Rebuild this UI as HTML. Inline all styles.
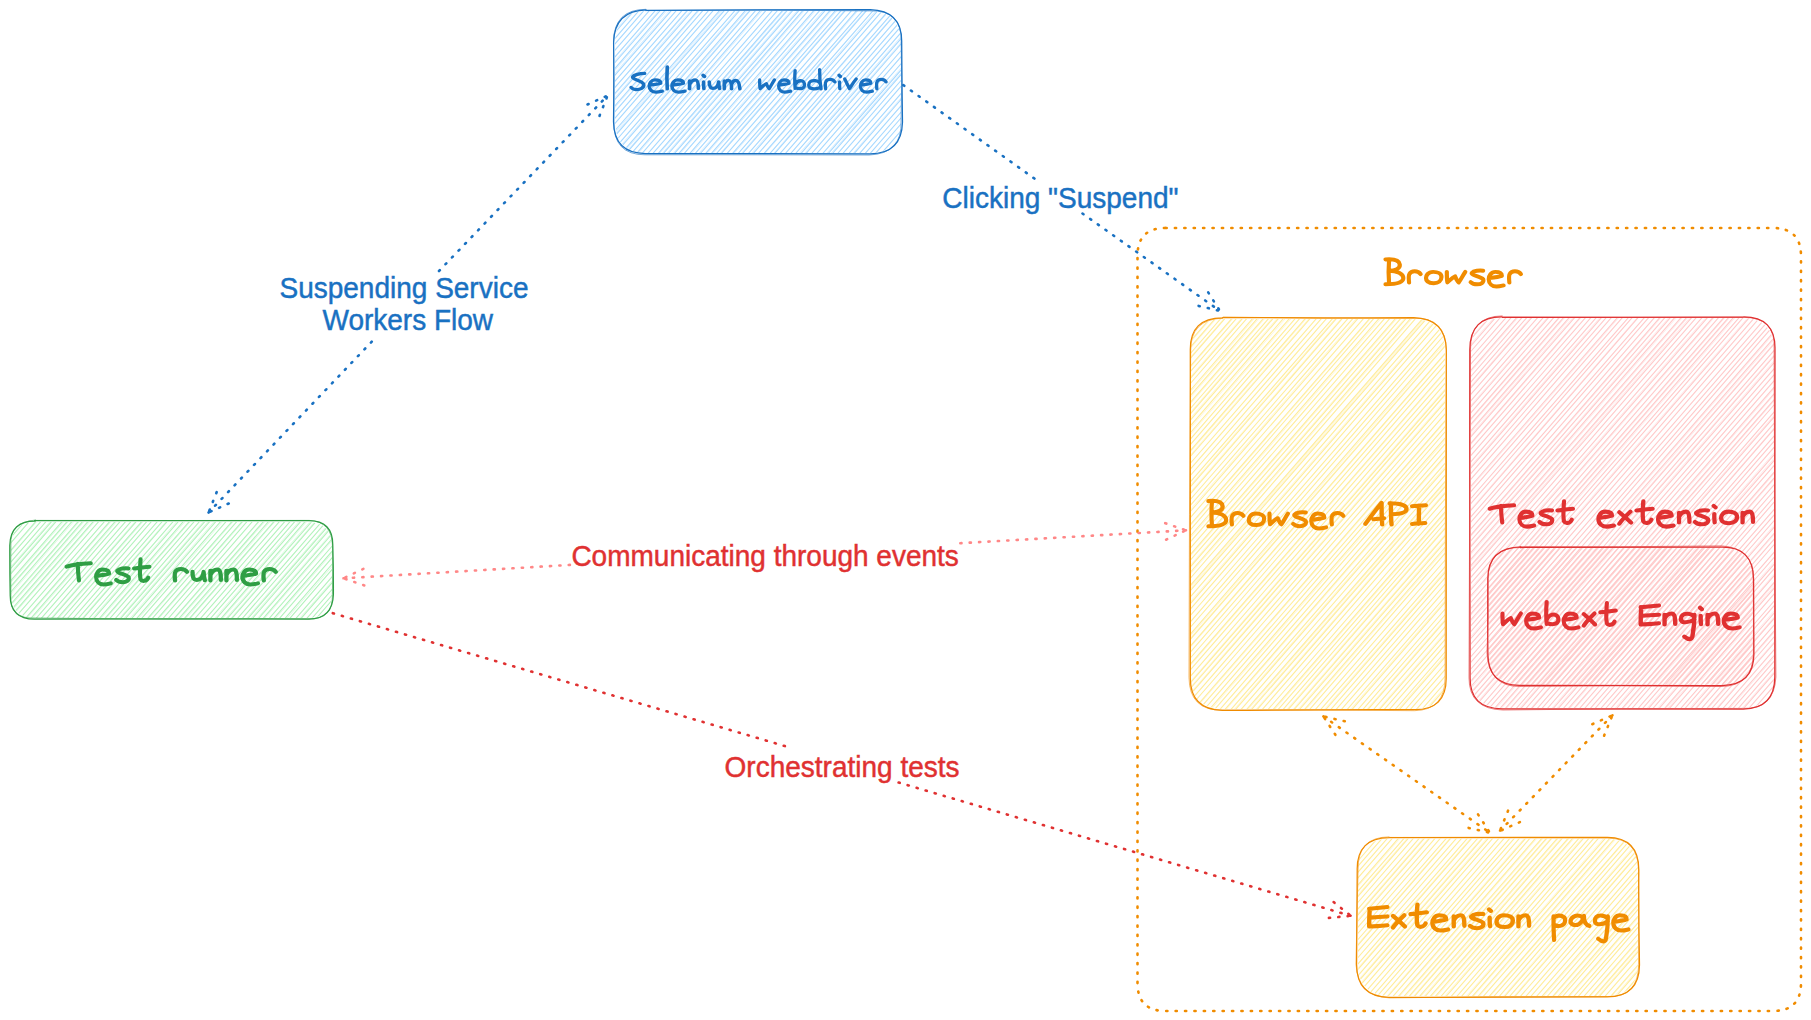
<!DOCTYPE html>
<html><head><meta charset="utf-8"><style>
html,body{margin:0;padding:0;background:#fff;width:1811px;height:1020px;overflow:hidden}
svg{display:block}
.lab{font-family:"Liberation Sans",sans-serif}
.hw{font-family:"Liberation Sans",sans-serif;font-weight:bold}
</style></head><body>
<svg width="1811" height="1020" viewBox="0 0 1811 1020">
<defs><clipPath id="c1"><path d="M647.0,11.0 L869.0,11.0 Q901.0,11.0 901.0,43.0 L901.0,121.0 Q901.0,153.0 869.0,153.0 L647.0,153.0 Q615.0,153.0 615.0,121.0 L615.0,43.0 Q615.0,11.0 647.0,11.0"/></clipPath><clipPath id="c2"><path d="M35.5,522.0 L307.5,522.0 Q332.0,522.0 332.0,546.5 L332.0,593.5 Q332.0,618.0 307.5,618.0 L35.5,618.0 Q11.0,618.0 11.0,593.5 L11.0,546.5 Q11.0,522.0 35.5,522.0"/></clipPath><clipPath id="c3"><path d="M1223.0,319.0 L1413.0,319.0 Q1445.0,319.0 1445.0,351.0 L1445.0,677.0 Q1445.0,709.0 1413.0,709.0 L1223.0,709.0 Q1191.0,709.0 1191.0,677.0 L1191.0,351.0 Q1191.0,319.0 1223.0,319.0"/></clipPath><clipPath id="c4"><path d="M1503.0,318.0 L1742.0,318.0 Q1774.0,318.0 1774.0,350.0 L1774.0,676.0 Q1774.0,708.0 1742.0,708.0 L1503.0,708.0 Q1471.0,708.0 1471.0,676.0 L1471.0,350.0 Q1471.0,318.0 1503.0,318.0"/></clipPath><clipPath id="c5"><path d="M1521.0,548.0 L1720.5,548.0 Q1752.5,548.0 1752.5,580.0 L1752.5,652.5 Q1752.5,684.5 1720.5,684.5 L1521.0,684.5 Q1489.0,684.5 1489.0,652.5 L1489.0,580.0 Q1489.0,548.0 1521.0,548.0"/></clipPath><clipPath id="c6"><path d="M1390.0,838.7 L1606.0,838.7 Q1638.0,838.7 1638.0,870.7 L1638.0,964.0 Q1638.0,996.0 1606.0,996.0 L1390.0,996.0 Q1358.0,996.0 1358.0,964.0 L1358.0,870.7 Q1358.0,838.7 1390.0,838.7"/></clipPath></defs>
<g clip-path="url(#c1)" fill="none" stroke="#a5d8ff"><path d="M535.4,105.4L749.9,-141.9M538.3,107.9L753.1,-139.1M541.4,110.6L755.8,-136.8M544.6,113.3L759.6,-133.5M547.7,116.0L762.0,-131.4M550.4,118.4L764.9,-128.9M553.5,121.0L768.1,-126.1M556.7,123.9L771.5,-123.1M559.5,126.3L774.3,-120.7M562.5,128.9L776.8,-118.5M565.7,131.7L780.8,-115.0M568.8,134.4L783.4,-112.8M571.8,137.0L786.9,-109.8M574.7,139.5L789.8,-107.2M577.7,142.1L792.8,-104.6M580.9,144.9L795.9,-101.9M583.9,147.5L798.6,-99.6M587.1,150.3L801.8,-96.8M589.6,152.5L804.6,-94.4M593.2,155.5L808.2,-91.2M595.8,157.9L811.0,-88.8M598.8,160.4L813.3,-86.8M601.9,163.1L817.0,-83.5M604.8,165.7L819.4,-81.4M608.2,168.6L822.7,-78.6M610.9,171.0L825.4,-76.2M613.9,173.6L828.6,-73.5M616.9,176.2L831.2,-71.2M620.0,178.9L834.4,-68.5M623.3,181.8L838.2,-65.1M626.1,184.2L841.2,-62.6M629.2,186.9L844.0,-60.1M632.2,189.5L846.5,-57.9M635.0,191.9L849.8,-55.1M638.4,194.9L853.3,-52.0M641.0,197.1L855.5,-50.1M644.0,199.8L858.7,-47.3M647.2,202.5L861.8,-44.6M650.2,205.2L865.2,-41.7M653.1,207.7L868.3,-39.0M656.2,210.3L871.0,-36.6M659.5,213.2L874.1,-33.9M662.4,215.7L877.4,-31.1M665.2,218.2L879.7,-29.1M668.4,220.9L883.3,-25.9M671.5,223.7L886.2,-23.4M674.6,226.4L889.8,-20.3M677.3,228.7L891.8,-18.5M680.4,231.4L895.6,-15.2M683.2,233.8L898.3,-12.9M686.3,236.5L900.9,-10.6M689.3,239.2L904.4,-7.6M692.8,242.1L907.7,-4.7M695.7,244.7L910.0,-2.7M698.6,247.2L913.3,0.2M701.6,249.8L916.5,2.9M704.8,252.6L919.2,5.3M707.4,254.8L922.4,8.0M710.4,257.5L925.4,10.7M713.5,260.2L928.0,12.9M716.6,262.8L931.4,15.8M719.5,265.3L934.4,18.5M722.8,268.2L937.8,21.5M725.9,270.9L941.0,24.2M728.5,273.2L943.2,26.1M731.6,275.9L946.0,28.6M734.6,278.5L948.9,31.1M737.8,281.3L952.5,34.3M741.0,284.1L955.4,36.7M743.8,286.5L958.6,39.6M747.1,289.3L961.8,42.3M749.9,291.8L964.6,44.8M752.9,294.4L967.6,47.4M756.1,297.2L971.1,50.4M759.2,299.9L973.7,52.6M762.2,302.5L977.2,55.7M764.9,304.8L979.8,57.9" stroke-width="1.1"/><path d="M537.4,107.1L752.1,-139.9M540.8,110.0L755.3,-137.2M543.7,112.6L758.6,-134.3M558.7,125.6L773.4,-121.4M563.4,129.7L777.9,-117.5M564.8,130.9L779.7,-116.0M575.3,140.1L790.3,-106.8M576.8,141.4L791.8,-105.5M581.7,145.6L796.6,-101.3M594.1,156.4L809.0,-90.5M595.0,157.2L810.0,-89.7M603.9,164.9L818.6,-82.2M609.0,169.4L823.7,-77.8M610.3,170.4L824.9,-76.7M617.8,176.9L832.3,-70.3M629.9,187.5L844.6,-59.5M631.4,188.8L846.0,-58.4M634.1,191.2L848.9,-55.8M637.6,194.2L852.4,-52.8M641.8,197.8L856.4,-49.3M648.1,203.3L862.8,-43.8M652.2,206.9L867.2,-39.9M657.0,211.0L871.8,-35.9M660.4,214.0L875.0,-33.1M664.5,217.6L879.1,-29.6M672.3,224.4L887.0,-22.7M676.6,228.1L891.2,-19.0M682.3,233.0L897.2,-13.8M690.0,239.7L904.9,-7.2M695.0,244.1L909.6,-3.1M709.5,256.7L924.4,9.8M712.6,259.4L927.2,12.3M725.1,270.2L940.0,23.4M727.6,272.4L942.3,25.4M740.1,283.3L954.7,36.1M761.4,301.8L976.3,54.9M764.0,304.1L978.8,57.1" stroke-width="0.7" opacity="0.6"/></g>
<path d="M646.3,10.4 Q757.7,10.2 870.2,9.6 Q902.4,10.5 901.7,42.5 Q901.9,82.0 902.5,122.3 Q901.7,153.9 870.0,153.8 Q757.7,153.8 646.2,153.5 Q614.1,153.9 613.5,121.8 Q614.1,82.0 613.6,42.5 Q614.3,10.5 646.6,9.8" fill="none" stroke="#1971c2" stroke-width="1.25"/>
<path d="M645.0,10.6 Q757.5,9.2 869.8,10.9 Q902.7,9.5 901.2,42.9 Q902.2,82.4 901.1,121.0 Q902.4,153.8 869.1,155.0 Q758.3,154.7 645.1,154.8 Q613.0,154.8 613.9,121.6 Q614.1,82.9 613.5,41.2 Q614.1,9.4 646.1,9.3" fill="none" stroke="#1971c2" stroke-width="0.8" opacity="0.75"/>
<g clip-path="url(#c2)" fill="none" stroke="#b2f2bb"><path d="M-54.9,600.4L169.8,341.3M-51.8,603.1L173.2,344.2M-48.8,605.8L176.5,347.1M-45.9,608.3L178.7,349.0M-42.4,611.4L182.7,352.5M-39.4,613.9L185.6,354.9M-36.4,616.5L188.5,357.5M-33.5,619.1L192.0,360.6M-30.6,621.6L194.0,362.3M-27.3,624.4L197.7,365.5M-24.4,627.0L200.4,367.9M-21.7,629.4L203.2,370.3M-18.2,632.3L206.9,373.5M-15.6,634.6L209.3,375.6M-12.6,637.2L212.5,378.3M-9.6,639.8L215.5,381.0M-6.5,642.5L218.6,383.7M-3.3,645.4L221.9,386.6M-0.2,648.0L224.8,389.1M2.8,650.6L228.0,391.8M5.8,653.3L230.6,394.1M8.7,655.7L234.1,397.1M11.9,658.5L237.0,399.7M14.8,661.1L240.1,402.3M17.8,663.7L243.3,405.1M20.8,666.3L246.0,407.5M23.8,668.9L248.4,409.6M26.9,671.6L252.0,412.7M29.9,674.2L254.6,414.9M32.7,676.6L257.4,417.4M35.9,679.4L261.0,420.5M38.7,681.8L264.1,423.2M42.0,684.7L266.6,425.4M45.0,687.3L270.2,428.5M47.8,689.8L273.0,431.0M51.0,692.6L275.9,433.5M54.0,695.1L279.0,436.2M56.8,697.5L281.8,438.6M60.3,700.6L285.3,441.6M63.3,703.2L287.9,443.9M65.9,705.4L291.2,446.8M69.3,708.4L294.5,449.7M71.9,710.7L297.4,452.1M75.1,713.4L300.3,454.7M78.3,716.3L302.9,457.0M81.3,718.9L306.0,459.7M84.3,721.4L309.7,462.9M87.1,723.9L312.5,465.3M90.4,726.8L315.2,467.7M93.0,729.1L318.5,470.5M96.2,731.8L321.6,473.2M99.4,734.6L324.6,475.8M102.5,737.3L327.6,478.4M105.1,739.5L330.3,480.8M108.4,742.5L333.6,483.7M111.4,745.0L336.1,485.8M114.5,747.7L340.0,489.2M117.4,750.2L342.4,491.3M120.4,752.8L345.7,494.2M123.4,755.4L348.3,496.4M126.4,758.1L351.5,499.2M129.2,760.5L354.1,501.4M132.6,763.5L357.6,504.5M135.4,765.9L360.1,506.6M138.5,768.6L363.7,509.8M141.4,771.1L366.2,512.0M144.5,773.8L369.4,514.8M147.8,776.7L372.5,517.5M150.6,779.1L375.2,519.8M153.8,781.9L378.9,523.0M156.6,784.3L381.9,525.6M159.7,787.0L385.2,528.5M162.7,789.6L388.0,531.0M165.7,792.2L390.3,533.0M168.5,794.7L394.0,536.1M171.6,797.4L396.3,538.2" stroke-width="1.1"/><path d="M-54.1,601.1L170.8,342.1M-41.7,611.9L183.3,353.0M-34.2,618.4L191.0,359.7M-31.5,620.8L193.4,361.8M-26.4,625.2L198.6,366.3M-23.8,627.5L201.2,368.5M-20.7,630.2L204.3,371.2M-17.5,632.9L207.5,374.1M-14.8,635.3L210.2,376.3M-11.7,638.0L213.4,379.1M-8.9,640.5L216.2,381.6M0.5,648.6L225.5,389.7M3.7,651.4L228.8,392.5M14.2,660.5L239.4,401.7M18.6,664.4L243.9,405.7M32.0,676.0L256.9,417.0M37.8,681.1L263.1,422.3M42.8,685.4L267.7,426.3M45.6,687.9L270.8,429.0M53.2,694.5L278.3,435.5M55.9,696.7L280.9,437.8M59.3,699.7L284.3,440.8M64.2,704.0L289.1,444.9M70.0,709.1L295.2,450.2M75.8,714.1L300.9,455.2M84.9,722.0L310.1,463.2M88.0,724.7L313.2,465.9M91.2,727.5L316.2,468.5M93.7,729.6L319.0,470.9M107.5,741.6L332.6,482.8M112.1,745.6L337.0,486.6M113.8,747.1L339.0,488.4M116.8,749.7L341.8,490.7M125.7,757.4L350.7,498.5M128.3,759.7L353.2,500.7M131.8,762.8L356.9,503.9M136.0,766.5L360.9,507.4M142.2,771.8L367.2,512.8M148.8,777.5L373.7,518.5M155.8,783.6L381.0,524.8M172.5,798.1L397.4,539.1" stroke-width="0.7" opacity="0.6"/></g>
<path d="M34.1,520.6 Q171.5,521.1 308.4,520.7 Q333.1,520.5 332.8,545.5 Q333.5,570.1 333.4,594.5 Q332.7,618.7 309.0,619.2 Q171.3,618.5 34.5,619.2 Q9.9,618.8 10.2,594.9 Q9.7,569.5 9.8,545.4 Q10.2,520.7 35.8,521.2" fill="none" stroke="#2f9e44" stroke-width="1.25"/>
<path d="M34.5,520.4 Q172.5,520.6 309.2,520.4 Q332.4,521.6 332.5,546.5 Q333.0,569.3 332.4,594.3 Q333.4,620.0 307.7,618.8 Q170.9,620.0 33.7,618.0 Q9.0,618.8 10.9,595.3 Q10.5,571.1 10.9,545.1 Q9.3,522.0 36.0,520.0" fill="none" stroke="#2f9e44" stroke-width="0.8" opacity="0.75"/>
<path d="M1165.5,228.0 L1773.0,228.0 Q1801.0,228.0 1801.0,256.0 L1801.0,983.0 Q1801.0,1011.0 1773.0,1011.0 L1165.5,1011.0 Q1137.5,1011.0 1137.5,983.0 L1137.5,256.0 Q1137.5,228.0 1165.5,228.0" fill="none" stroke="#f08c00" stroke-width="2.6" stroke-dasharray="1.2 8.2" stroke-linecap="round"/>
<g clip-path="url(#c3)" fill="none" stroke="#ffec99"><path d="M995.4,547.2L1305.9,189.8M998.1,549.6L1308.3,192.0M1001.2,552.2L1312.2,195.3M1004.3,554.9L1315.1,197.9M1007.4,557.7L1318.0,200.3M1010.4,560.2L1321.2,203.2M1013.2,562.7L1323.4,205.0M1016.6,565.6L1327.5,208.6M1019.7,568.3L1329.9,210.7M1022.6,570.9L1333.6,213.9M1025.4,573.3L1335.9,216.0M1028.8,576.2L1339.3,218.8M1031.4,578.5L1341.9,221.2M1034.7,581.4L1345.4,224.2M1037.7,584.0L1348.4,226.8M1040.6,586.5L1350.8,228.9M1043.6,589.2L1353.9,231.6M1046.5,591.7L1356.7,234.0M1049.9,594.6L1360.2,237.0M1052.8,597.1L1363.6,240.0M1055.8,599.7L1366.0,242.1M1058.6,602.2L1369.3,244.9M1061.6,604.8L1372.0,247.3M1064.7,607.5L1375.7,250.5M1067.6,610.0L1378.5,253.0M1071.1,613.0L1381.3,255.4M1074.0,615.5L1384.9,258.5M1076.6,617.8L1387.0,260.3M1080.0,620.8L1390.3,263.2M1082.7,623.1L1393.6,266.1M1085.7,625.7L1396.4,268.5M1088.8,628.4L1399.2,271.0M1091.7,630.9L1402.5,273.8M1095.1,633.9L1406.0,276.8M1097.9,636.3L1408.2,278.8M1101.0,639.0L1411.2,281.4M1103.8,641.5L1414.4,284.2M1107.0,644.2L1417.4,286.7M1110.1,646.9L1420.6,289.6M1112.8,649.3L1423.6,292.2M1116.2,652.2L1426.6,294.8M1118.9,654.6L1429.2,297.0M1121.9,657.2L1432.1,299.5M1125.2,660.1L1436.2,303.1M1128.0,662.5L1438.4,305.0M1131.0,665.1L1441.5,307.8M1134.4,668.1L1444.8,310.5M1137.2,670.5L1447.4,312.8M1140.2,673.1L1451.1,316.1M1143.4,675.9L1453.7,318.3M1146.1,678.2L1456.6,320.9M1149.5,681.1L1459.8,323.6M1152.1,683.4L1462.6,326.0M1155.4,686.3L1466.2,329.2M1158.4,688.9L1469.0,331.6M1161.3,691.4L1471.8,334.0M1164.3,694.1L1475.1,336.9M1167.1,696.5L1478.2,339.6M1170.4,699.3L1481.1,342.1M1173.6,702.1L1484.5,345.1M1176.4,704.6L1486.6,347.0M1179.3,707.1L1490.3,350.1M1182.5,709.9L1493.0,352.5M1185.3,712.3L1496.2,355.3M1188.7,715.2L1499.5,358.2M1191.7,717.9L1502.6,360.8M1194.7,720.4L1505.0,362.9M1197.6,723.0L1508.0,365.5M1200.6,725.6L1511.0,368.1M1203.6,728.2L1514.3,371.0M1206.5,730.7L1517.0,373.3M1209.9,733.7L1520.6,376.5M1212.5,735.9L1523.4,378.9M1215.6,738.7L1526.6,381.7M1218.8,741.4L1529.7,384.4M1221.7,743.9L1532.1,386.5M1224.9,746.7L1535.4,389.4M1227.8,749.2L1538.2,391.8M1231.0,752.0L1542.0,395.0M1233.9,754.6L1544.8,397.5M1236.8,757.1L1547.4,399.8M1239.7,759.5L1550.0,402.0M1242.6,762.1L1552.8,404.4M1245.9,765.0L1556.4,407.6M1249.0,767.6L1559.5,410.3M1251.9,770.2L1562.1,412.5M1254.8,772.7L1565.0,415.0M1258.0,775.5L1568.5,418.1M1261.0,778.1L1571.9,421.1M1263.9,780.6L1574.8,423.6M1266.9,783.2L1577.1,425.6M1269.8,785.7L1580.4,428.5M1272.9,788.4L1583.2,430.9M1276.1,791.2L1586.8,434.0M1278.9,793.7L1589.3,436.2M1282.2,796.6L1592.8,439.2M1285.1,799.0L1595.6,441.7M1287.9,801.5L1598.7,444.3M1291.2,804.4L1601.5,446.8M1294.4,807.1L1605.4,450.2M1297.2,809.6L1607.8,452.3M1300.2,812.2L1610.6,454.7M1303.5,815.0L1613.8,457.5M1306.0,817.2L1616.4,459.7M1309.4,820.2L1619.8,462.7M1312.2,822.6L1622.6,465.1M1315.4,825.4L1626.2,468.2M1318.6,828.2L1629.2,470.8M1321.5,830.7L1632.4,473.6M1324.3,833.1L1634.6,475.6M1327.2,835.6L1638.1,478.6M1330.5,838.5L1640.8,480.9" stroke-width="1.1"/><path d="M996.2,547.9L1306.7,190.5M999.1,550.4L1309.5,193.0M1002.1,553.0L1312.9,195.9M1005.0,555.5L1315.7,198.3M1008.0,558.2L1318.6,200.9M1012.5,562.1L1322.9,204.6M1017.3,566.3L1328.1,209.1M1022.0,570.3L1332.8,213.2M1029.7,577.0L1340.2,219.7M1032.3,579.3L1342.9,222.0M1035.5,582.1L1346.1,224.8M1039.8,585.8L1350.2,228.3M1042.7,588.3L1353.1,230.9M1047.5,592.5L1357.9,235.0M1050.8,595.3L1361.2,237.9M1059.3,602.8L1369.9,245.5M1060.9,604.1L1371.4,246.7M1075.8,617.1L1386.3,259.7M1079.3,620.1L1389.7,262.7M1087.8,627.5L1398.3,270.2M1095.8,634.5L1406.5,277.3M1101.9,639.8L1412.3,282.3M1110.9,647.6L1421.4,290.3M1115.4,651.5L1425.9,294.2M1119.7,655.3L1430.1,297.8M1126.1,660.8L1436.9,303.7M1127.0,661.6L1437.6,304.3M1133.5,667.2L1443.9,309.8M1150.4,682.0L1460.9,324.5M1151.5,682.9L1462.0,325.6M1156.0,686.8L1466.7,329.6M1165.0,694.7L1475.7,337.4M1173.0,701.6L1483.7,344.4M1175.8,704.0L1486.2,346.6M1178.7,706.5L1489.4,349.4M1189.4,715.8L1500.1,358.7M1198.6,723.8L1509.1,366.5M1207.2,731.3L1517.7,374.0M1211.7,735.2L1522.4,378.0M1219.6,742.1L1530.4,385.0M1220.9,743.3L1531.5,385.9M1224.2,746.1L1534.7,388.8M1234.8,755.3L1545.5,398.1M1241.8,761.4L1552.2,403.9M1245.2,764.4L1555.8,407.1M1248.1,766.9L1558.7,409.6M1252.7,770.8L1563.0,413.4M1263.1,779.9L1573.9,422.8M1277.9,792.8L1588.5,435.5M1287.2,800.9L1597.9,443.7M1293.7,806.5L1604.5,449.4M1305.0,816.4L1615.5,459.0M1320.6,829.9L1631.4,472.8M1326.5,835.1L1637.3,477.9" stroke-width="0.7" opacity="0.6"/></g>
<path d="M1222.2,317.5 Q1317.6,318.1 1413.5,317.6 Q1445.5,318.4 1446.3,349.7 Q1446.5,514.0 1446.2,678.4 Q1446.3,710.2 1413.9,709.7 Q1317.7,709.5 1222.4,710.4 Q1190.3,709.6 1190.3,678.1 Q1190.0,513.6 1190.3,350.1 Q1189.8,317.8 1222.8,317.9" fill="none" stroke="#f08c00" stroke-width="1.25"/>
<path d="M1222.9,317.0 Q1318.6,318.9 1414.6,318.2 Q1445.9,317.5 1446.5,350.6 Q1445.0,514.0 1445.1,677.9 Q1445.0,710.1 1414.5,710.7 Q1318.2,709.5 1221.9,710.1 Q1189.5,710.6 1189.0,677.7 Q1189.1,514.4 1190.7,351.0 Q1190.2,319.0 1223.0,318.2" fill="none" stroke="#f08c00" stroke-width="0.8" opacity="0.75"/>
<g clip-path="url(#c4)" fill="none" stroke="#ffc9c9"><path d="M1276.4,544.6L1605.9,166.1M1279.4,547.3L1608.4,168.2M1282.7,550.1L1612.0,171.3M1285.6,552.7L1614.5,173.6M1288.6,555.2L1618.2,176.7M1291.5,557.8L1620.7,179.0M1294.5,560.3L1624.2,182.0M1297.9,563.3L1626.8,184.3M1300.8,565.8L1630.1,187.1M1303.9,568.5L1633.1,189.7M1306.6,570.9L1635.9,192.1M1309.6,573.5L1638.6,194.5M1312.6,576.1L1642.1,197.6M1315.8,578.9L1645.3,200.3M1318.9,581.6L1648.3,202.9M1321.7,584.0L1651.3,205.6M1324.6,586.6L1654.3,208.2M1327.7,589.2L1656.7,210.3M1330.9,592.1L1659.9,213.0M1333.6,594.4L1663.2,215.9M1337.0,597.3L1666.2,218.5M1339.8,599.7L1669.4,221.3M1343.0,602.5L1672.4,223.9M1346.1,605.2L1675.5,226.5M1349.1,607.8L1678.4,229.1M1352.0,610.3L1681.1,231.4M1354.8,612.8L1684.0,234.0M1358.2,615.7L1687.5,237.0M1360.8,618.0L1690.4,239.5M1364.2,620.9L1693.8,242.5M1367.0,623.4L1695.8,244.2M1370.3,626.3L1699.2,247.2M1373.3,628.9L1702.9,250.4M1375.9,631.2L1705.3,252.5M1379.3,634.1L1708.6,255.3M1382.4,636.8L1711.6,258.0M1385.3,639.3L1714.5,260.5M1388.0,641.7L1717.7,263.3M1391.2,644.4L1720.1,265.3M1394.4,647.2L1723.7,268.5M1397.5,649.9L1726.8,271.2M1400.1,652.2L1729.8,273.8M1403.4,655.0L1732.4,276.0M1406.3,657.5L1735.7,278.9M1409.5,660.4L1738.8,281.6M1412.4,662.8L1741.9,284.3M1415.7,665.7L1745.1,287.1M1418.6,668.2L1748.1,289.7M1421.4,670.7L1750.8,292.0M1424.4,673.2L1753.5,294.4M1427.3,675.8L1756.8,297.3M1430.2,678.4L1759.1,299.2M1433.6,681.3L1762.6,302.3M1436.4,683.7L1765.6,304.9M1439.4,686.3L1768.6,307.5M1442.6,689.1L1772.1,310.5M1445.4,691.5L1775.0,313.1M1448.7,694.4L1777.8,315.5M1451.5,696.8L1780.4,317.7M1454.7,699.7L1783.6,320.6M1457.5,702.0L1786.7,323.3M1460.8,704.9L1789.8,326.0M1463.6,707.4L1793.0,328.8M1466.6,710.0L1795.8,331.2M1469.7,712.6L1799.1,334.0M1473.0,715.5L1802.1,336.6M1475.8,718.0L1805.0,339.2M1478.6,720.4L1808.0,341.8M1481.7,723.1L1811.3,344.6M1484.9,725.8L1814.5,347.4M1487.9,728.5L1817.4,350.0M1490.9,731.1L1819.9,352.1M1494.1,733.9L1823.5,355.3M1496.8,736.2L1825.9,357.3M1499.7,738.7L1829.1,360.1M1503.0,741.6L1831.8,362.5M1506.1,744.3L1835.4,365.6M1508.8,746.6L1838.0,367.8M1511.9,749.4L1840.9,370.3M1515.1,752.2L1844.7,373.7M1518.0,754.7L1847.5,376.1M1521.0,757.3L1849.9,378.2M1523.8,759.7L1853.4,381.2M1527.0,762.5L1856.1,383.5M1530.2,765.2L1859.5,386.5M1533.1,767.8L1862.4,389.1M1536.3,770.6L1865.5,391.7M1539.1,773.0L1868.0,393.9M1542.2,775.7L1871.9,397.3M1545.0,778.2L1874.5,399.6M1548.0,780.7L1877.2,402.0M1551.3,783.6L1880.5,404.8M1554.5,786.3L1883.5,407.4M1557.4,788.9L1886.4,409.9M1560.1,791.3L1889.0,412.2M1563.4,794.2L1893.0,415.7M1566.1,796.5L1895.5,417.8M1569.3,799.3L1899.0,420.9M1572.1,801.7L1900.9,422.6M1575.6,804.7L1904.4,425.6M1578.6,807.3L1908.0,428.6M1581.3,809.6L1910.9,431.2M1584.4,812.4L1913.6,433.5M1587.7,815.3L1917.2,436.7M1590.4,817.6L1919.2,438.5M1593.6,820.4L1923.2,441.9M1596.6,823.0L1925.7,444.0M1599.7,825.6L1929.0,446.9M1602.7,828.3L1931.8,449.4M1605.4,830.6L1935.0,452.2M1608.8,833.5L1937.8,454.6M1611.8,836.2L1941.3,457.7M1614.9,838.9L1944.0,460.0M1617.5,841.2L1947.0,462.6M1620.5,843.8L1949.9,465.1M1623.7,846.5L1952.7,467.5M1626.7,849.1L1955.6,470.1M1629.9,851.9L1958.9,472.9M1633.0,854.6L1962.6,476.1M1635.8,857.0L1965.1,478.3M1639.0,859.8L1968.0,480.9" stroke-width="1.1"/><path d="M1284.9,552.0L1613.9,173.1M1287.8,554.6L1617.2,175.9M1301.6,566.5L1630.9,187.8M1308.8,572.8L1638.0,193.9M1318.2,581.0L1647.5,202.2M1325.3,587.1L1654.8,208.5M1328.3,589.8L1657.5,210.9M1331.7,592.7L1660.8,213.8M1332.8,593.7L1662.3,215.1M1337.6,597.8L1666.8,219.0M1348.2,607.1L1677.5,228.3M1358.9,616.4L1688.3,237.7M1369.7,625.7L1698.8,246.8M1383.1,637.3L1712.3,258.6M1387.3,641.1L1716.8,262.5M1392.0,645.2L1721.1,266.2M1395.2,647.9L1724.5,269.2M1398.3,650.6L1727.6,271.8M1399.4,651.5L1728.8,272.9M1408.6,659.6L1737.9,280.8M1413.2,663.6L1742.6,284.9M1419.3,668.9L1748.7,290.2M1422.1,671.3L1751.4,292.6M1425.3,674.0L1754.5,295.2M1432.7,680.5L1761.8,301.6M1455.4,700.3L1784.5,321.3M1458.4,702.9L1787.7,324.1M1460.1,704.3L1789.3,325.5M1465.9,709.4L1795.2,330.6M1468.8,711.9L1798.1,333.2M1482.6,723.9L1812.1,345.3M1485.6,726.5L1815.1,347.9M1488.6,729.1L1818.0,350.5M1495.9,735.5L1825.1,356.6M1502.4,741.1L1831.4,362.1M1514.3,751.4L1843.7,372.8M1517.1,753.9L1846.5,375.2M1524.6,760.4L1854.1,381.8M1527.6,763.0L1856.8,384.1M1550.3,782.8L1879.6,404.0M1555.1,786.9L1884.2,408.0M1568.5,798.5L1897.9,419.9M1574.6,803.9L1903.7,424.9M1579.4,808.0L1908.7,429.3M1580.4,808.9L1909.9,430.3M1592.7,819.6L1922.1,441.0M1595.8,822.3L1925.0,443.5M1603.4,828.9L1932.6,450.1M1608.1,832.9L1937.2,454.1M1615.8,839.6L1945.0,460.8M1622.8,845.7L1951.9,466.9M1635.1,856.5L1964.4,477.7" stroke-width="0.7" opacity="0.6"/></g>
<path d="M1501.9,317.3 Q1622.9,316.7 1743.4,317.0 Q1775.4,316.9 1775.0,348.6 Q1774.8,512.5 1774.8,677.1 Q1774.6,708.7 1743.4,709.1 Q1622.6,708.7 1502.4,708.8 Q1469.6,708.9 1470.1,677.1 Q1469.6,513.3 1469.8,349.5 Q1469.9,316.5 1502.5,316.9" fill="none" stroke="#e03131" stroke-width="1.25"/>
<path d="M1502.5,317.0 Q1623.3,317.9 1743.8,317.3 Q1775.9,317.5 1774.1,348.6 Q1774.4,512.1 1775.9,677.0 Q1774.3,709.8 1742.7,708.4 Q1623.0,708.3 1503.0,710.0 Q1469.0,709.1 1469.0,677.9 Q1469.5,513.0 1470.5,349.6 Q1470.0,316.1 1502.6,315.9" fill="none" stroke="#e03131" stroke-width="0.8" opacity="0.75"/>
<g clip-path="url(#c5)" fill="none" stroke="#ffc9c9"><path d="M1413.3,637.8L1613.5,408.0M1416.4,640.6L1616.5,410.7M1419.4,643.1L1619.3,413.1M1422.4,645.7L1622.0,415.4M1425.3,648.2L1625.4,418.4M1428.7,651.2L1628.3,420.9M1431.5,653.6L1631.7,423.8M1434.8,656.5L1635.2,426.9M1437.6,658.9L1637.4,428.8M1440.6,661.6L1640.7,431.7M1443.5,664.0L1643.4,434.0M1446.6,666.8L1646.3,436.5M1449.6,669.3L1649.8,439.6M1452.5,671.9L1652.4,441.9M1455.5,674.5L1655.5,444.5M1458.9,677.4L1659.2,447.8M1461.9,680.1L1661.5,449.8M1465.0,682.8L1664.9,452.7M1467.6,685.0L1667.3,454.8M1470.6,687.6L1670.7,457.8M1473.8,690.4L1673.8,460.4M1476.8,693.0L1677.1,463.4M1479.7,695.5L1679.9,465.8M1482.7,698.2L1682.3,467.8M1485.7,700.8L1685.3,470.5M1489.0,703.6L1688.7,473.4M1492.1,706.3L1691.9,476.2M1494.7,708.6L1694.9,478.8M1497.9,711.4L1698.1,481.6M1501.0,714.1L1701.4,484.5M1504.2,716.8L1704.0,486.7M1507.3,719.5L1706.8,489.2M1510.3,722.1L1710.0,492.0M1513.0,724.5L1713.2,494.7M1516.1,727.2L1716.0,497.2M1519.1,729.8L1718.6,499.4M1522.0,732.3L1721.6,502.0M1525.4,735.3L1724.9,504.9M1528.3,737.8L1728.0,507.6M1531.3,740.4L1731.2,510.3M1534.4,743.1L1734.5,513.3M1537.3,745.6L1737.4,515.8M1540.1,748.0L1740.1,518.1M1543.1,750.6L1743.1,520.7M1546.1,753.3L1746.3,523.5M1549.2,756.0L1749.1,525.9M1552.3,758.7L1752.2,528.6M1555.5,761.4L1755.3,531.3M1558.5,764.1L1758.5,534.1M1561.3,766.5L1761.1,536.4M1564.3,769.1L1763.9,538.8M1567.3,771.7L1767.6,542.0M1570.2,774.2L1769.8,543.9M1573.5,777.0L1773.0,546.7M1576.7,779.9L1776.8,550.0M1579.7,782.5L1780.0,552.8M1582.6,785.0L1782.6,555.1M1585.3,787.3L1784.9,557.0M1588.8,790.4L1788.5,560.2M1591.6,792.8L1792.0,563.2M1594.5,795.3L1794.4,565.3M1597.4,797.9L1797.0,567.6M1600.7,800.7L1800.4,570.5M1603.8,803.4L1803.5,573.2M1606.8,806.0L1806.4,575.8M1609.7,808.6L1809.7,578.6M1612.6,811.1L1812.3,580.9M1615.7,813.7L1816.0,584.1M1618.6,816.3L1818.4,586.1M1621.6,818.9L1821.1,588.5M1624.7,821.6L1824.8,591.7M1628.0,824.4L1827.8,594.3" stroke-width="1.1"/><path d="M1420.1,643.7L1620.0,413.7M1424.6,647.7L1624.6,417.7M1434.0,655.8L1634.1,426.0M1439.7,660.8L1639.7,430.8M1446.0,666.2L1645.7,436.1M1448.9,668.7L1648.9,438.9M1464.1,682.0L1664.0,451.9M1469.8,686.9L1669.8,457.0M1474.5,691.0L1674.5,461.0M1476.2,692.5L1676.3,462.6M1483.6,698.9L1683.4,468.8M1488.4,703.1L1688.2,472.9M1495.4,709.2L1695.4,479.3M1498.6,712.0L1698.7,482.1M1501.9,714.8L1702.0,485.0M1506.4,718.7L1706.1,488.6M1512.0,723.7L1712.1,493.8M1522.8,733.0L1722.6,502.9M1531.9,740.9L1731.8,510.9M1533.6,742.4L1733.7,512.5M1536.5,744.9L1736.6,515.0M1556.4,762.2L1756.2,532.1M1570.9,774.9L1770.7,544.7M1574.4,777.8L1774.1,547.6M1580.6,783.3L1780.8,553.4M1584.5,786.7L1784.3,556.5M1588.1,789.8L1788.0,559.7M1598.4,798.7L1798.1,568.5M1607.5,806.7L1807.4,576.6M1613.6,811.9L1813.4,581.8M1614.9,813.1L1815.1,583.3M1620.8,818.2L1820.5,588.0" stroke-width="0.7" opacity="0.6"/></g>
<path d="M1520.0,547.5 Q1620.9,547.4 1721.4,547.2 Q1753.1,546.7 1753.6,578.8 Q1753.8,615.8 1753.9,653.9 Q1754.0,685.3 1721.6,685.6 Q1621.0,685.4 1519.6,685.4 Q1488.0,685.1 1487.9,654.0 Q1487.6,616.6 1487.8,579.1 Q1487.6,547.4 1521.2,546.8" fill="none" stroke="#e03131" stroke-width="1.25"/>
<path d="M1519.7,546.7 Q1620.8,547.2 1721.8,545.9 Q1754.0,548.1 1753.2,578.6 Q1753.6,616.9 1753.4,653.2 Q1752.9,686.2 1721.1,686.5 Q1621.0,684.9 1519.6,686.5 Q1488.9,686.5 1487.0,653.0 Q1488.9,615.8 1488.1,578.6 Q1488.3,546.9 1521.7,547.5" fill="none" stroke="#e03131" stroke-width="0.8" opacity="0.75"/>
<g clip-path="url(#c6)" fill="none" stroke="#ffec99"><path d="M1272.8,939.7L1488.7,691.2M1275.6,942.1L1491.2,693.3M1278.8,944.9L1494.8,696.5M1282.1,947.7L1498.5,699.7M1284.9,950.2L1501.0,701.8M1287.9,952.8L1503.8,704.4M1290.8,955.3L1506.6,706.7M1294.2,958.2L1510.1,709.8M1297.2,960.8L1513.6,712.8M1300.0,963.3L1515.6,714.6M1302.9,965.8L1518.5,717.1M1306.1,968.6L1521.9,720.1M1309.1,971.3L1524.7,722.5M1312.2,973.9L1527.7,725.1M1315.2,976.5L1530.9,727.9M1318.2,979.1L1533.9,730.5M1321.2,981.7L1537.6,733.7M1324.1,984.3L1539.7,735.6M1327.0,986.7L1543.3,738.7M1330.2,989.5L1546.1,741.1M1333.3,992.3L1549.4,744.0M1336.1,994.6L1551.8,746.0M1339.1,997.3L1555.4,749.1M1342.2,1000.0L1558.1,751.5M1345.2,1002.6L1561.4,754.4M1348.2,1005.2L1563.7,756.4M1351.5,1008.1L1567.3,759.5M1354.5,1010.7L1570.3,762.1M1357.6,1013.4L1573.6,765.0M1360.3,1015.7L1576.1,767.2M1363.3,1018.3L1579.0,769.7M1366.4,1021.0L1582.6,772.9M1369.4,1023.6L1584.9,774.8M1372.4,1026.3L1588.2,777.7M1375.6,1029.0L1591.9,780.9M1378.5,1031.5L1594.4,783.1M1381.6,1034.2L1597.4,785.7M1384.4,1036.7L1600.7,788.5M1387.7,1039.6L1603.4,790.9M1390.5,1042.0L1606.9,793.9M1393.5,1044.5L1609.4,796.1M1396.6,1047.3L1613.0,799.2M1399.6,1049.9L1615.5,801.5M1402.4,1052.4L1618.7,804.2M1405.8,1055.3L1621.3,806.5M1408.5,1057.6L1624.0,808.8M1411.8,1060.5L1628.0,812.3M1414.5,1062.9L1630.5,814.5M1417.9,1065.8L1633.4,817.0M1420.7,1068.2L1637.0,820.1M1424.0,1071.1L1640.3,823.0M1426.7,1073.5L1643.0,825.3M1430.0,1076.3L1645.6,827.6M1432.8,1078.8L1649.2,830.7M1435.7,1081.2L1652.0,833.1M1439.0,1084.1L1654.5,835.4M1442.0,1086.8L1657.7,838.1M1445.0,1089.3L1661.0,841.0M1448.0,1091.9L1663.7,843.3M1451.0,1094.5L1667.3,846.5M1454.0,1097.2L1670.4,849.1M1457.2,1100.0L1673.2,851.6M1460.3,1102.6L1676.4,854.3M1463.3,1105.2L1679.4,857.0M1466.1,1107.7L1681.8,859.1M1469.0,1110.2L1685.4,862.1M1472.2,1113.0L1688.5,864.9M1475.1,1115.5L1690.6,866.7M1478.1,1118.1L1694.1,869.7M1481.0,1120.6L1697.1,872.4M1484.0,1123.2L1700.2,875.0M1487.0,1125.8L1702.8,877.3M1490.0,1128.5L1706.1,880.2M1493.2,1131.3L1709.4,883.0M1496.3,1134.0L1712.4,885.7M1499.1,1136.4L1715.2,888.1M1502.1,1139.0L1718.2,890.7M1505.3,1141.7L1721.5,893.5M1508.1,1144.2L1723.9,895.6" stroke-width="1.1"/><path d="M1273.6,940.3L1489.5,691.9M1276.4,942.7L1492.1,694.2M1295.0,959.0L1511.0,710.6M1299.2,962.6L1515.0,714.0M1308.4,970.6L1524.2,722.0M1311.4,973.2L1527.1,724.6M1323.5,983.7L1539.3,735.2M1335.4,994.0L1551.2,745.5M1341.5,999.4L1557.4,751.0M1344.4,1001.9L1560.5,753.6M1365.8,1020.5L1581.8,772.2M1373.1,1026.9L1589.0,778.4M1376.4,1029.7L1592.5,781.5M1379.1,1032.0L1595.0,783.6M1381.0,1033.7L1596.9,785.2M1385.2,1037.4L1601.3,789.1M1386.8,1038.8L1602.7,790.3M1391.3,1042.7L1607.5,794.4M1394.3,1045.3L1610.2,796.8M1398.7,1049.1L1614.7,800.7M1411.0,1059.8L1627.0,811.5M1415.2,1063.4L1631.2,815.1M1418.6,1066.4L1634.3,817.8M1424.7,1071.7L1640.8,823.4M1432.2,1078.2L1648.3,830.0M1438.2,1083.5L1654.0,834.9M1455.0,1098.0L1671.1,849.8M1461.0,1103.2L1677.0,854.9M1464.2,1106.1L1680.3,857.7M1469.9,1111.0L1686.0,862.7M1481.6,1121.2L1697.7,872.9M1484.7,1123.9L1700.8,875.5M1486.1,1125.1L1702.0,876.6M1493.9,1131.8L1709.9,883.5M1495.5,1133.2L1711.5,884.9M1500.0,1137.2L1716.0,888.8M1507.5,1143.7L1723.3,895.2" stroke-width="0.7" opacity="0.6"/></g>
<path d="M1389.4,837.5 Q1497.6,837.5 1607.5,837.4 Q1638.9,837.8 1638.8,869.8 Q1638.5,917.3 1639.5,965.0 Q1639.2,996.8 1607.2,996.8 Q1498.1,997.5 1389.0,997.3 Q1356.8,996.9 1356.6,964.8 Q1357.1,917.6 1357.2,869.9 Q1356.6,837.9 1389.5,837.6" fill="none" stroke="#f08c00" stroke-width="1.25"/>
<path d="M1388.2,837.4 Q1499.0,837.8 1607.9,838.1 Q1638.1,838.2 1638.6,870.0 Q1638.7,917.7 1638.7,964.4 Q1638.2,997.9 1607.7,996.5 Q1497.0,996.1 1389.7,997.9 Q1358.1,996.8 1356.0,964.4 Q1356.8,917.9 1358.1,869.9 Q1357.3,836.9 1389.4,836.9" fill="none" stroke="#f08c00" stroke-width="0.8" opacity="0.75"/>
<path d="M208.6,512.5 L374.5,338.8" fill="none" stroke="#1971c2" stroke-width="2.6" stroke-dasharray="1.2 8.2" stroke-linecap="round"/>
<path d="M439.0,271.0 L607.6,95.5" fill="none" stroke="#1971c2" stroke-width="2.6" stroke-dasharray="1.2 8.2" stroke-linecap="round"/>
<path d="M587.5,104.5 L607.6,95.5" fill="none" stroke="#1971c2" stroke-width="2.6" stroke-dasharray="1.2 8.2" stroke-linecap="round"/>
<path d="M599.5,115.9 L607.6,95.5" fill="none" stroke="#1971c2" stroke-width="2.6" stroke-dasharray="1.2 8.2" stroke-linecap="round"/>
<path d="M228.7,503.5 L208.6,512.5" fill="none" stroke="#1971c2" stroke-width="2.6" stroke-dasharray="1.2 8.2" stroke-linecap="round"/>
<path d="M216.7,492.1 L208.6,512.5" fill="none" stroke="#1971c2" stroke-width="2.6" stroke-dasharray="1.2 8.2" stroke-linecap="round"/>
<path d="M903.3,85.1 L1037.0,180.4" fill="none" stroke="#1971c2" stroke-width="2.6" stroke-dasharray="1.2 8.2" stroke-linecap="round"/>
<path d="M1082.5,213.5 L1220.0,311.0" fill="none" stroke="#1971c2" stroke-width="2.6" stroke-dasharray="1.2 8.2" stroke-linecap="round"/>
<path d="M1208.2,292.4 L1220.0,311.0" fill="none" stroke="#1971c2" stroke-width="2.6" stroke-dasharray="1.2 8.2" stroke-linecap="round"/>
<path d="M1198.6,305.9 L1220.0,311.0" fill="none" stroke="#1971c2" stroke-width="2.6" stroke-dasharray="1.2 8.2" stroke-linecap="round"/>
<path d="M343.5,578.3 L570.0,564.9" fill="none" stroke="#ff8787" stroke-width="2.6" stroke-dasharray="1.2 8.2" stroke-linecap="round"/>
<path d="M960.3,543.2 L1186.0,530.3" fill="none" stroke="#ff8787" stroke-width="2.6" stroke-dasharray="1.2 8.2" stroke-linecap="round"/>
<path d="M1165.2,523.2 L1186.0,530.3" fill="none" stroke="#ff8787" stroke-width="2.6" stroke-dasharray="1.2 8.2" stroke-linecap="round"/>
<path d="M1166.1,539.7 L1186.0,530.3" fill="none" stroke="#ff8787" stroke-width="2.6" stroke-dasharray="1.2 8.2" stroke-linecap="round"/>
<path d="M364.3,585.4 L343.5,578.3" fill="none" stroke="#ff8787" stroke-width="2.6" stroke-dasharray="1.2 8.2" stroke-linecap="round"/>
<path d="M363.4,568.9 L343.5,578.3" fill="none" stroke="#ff8787" stroke-width="2.6" stroke-dasharray="1.2 8.2" stroke-linecap="round"/>
<path d="M332.8,613.2 L792.5,748.3" fill="none" stroke="#e03131" stroke-width="2.6" stroke-dasharray="1.2 8.2" stroke-linecap="round"/>
<path d="M898.6,782.5 L1350.8,915.8" fill="none" stroke="#e03131" stroke-width="2.6" stroke-dasharray="1.2 8.2" stroke-linecap="round"/>
<path d="M1333.6,902.1 L1350.8,915.8" fill="none" stroke="#e03131" stroke-width="2.6" stroke-dasharray="1.2 8.2" stroke-linecap="round"/>
<path d="M1328.9,917.9 L1350.8,915.8" fill="none" stroke="#e03131" stroke-width="2.6" stroke-dasharray="1.2 8.2" stroke-linecap="round"/>
<path d="M1323.4,716.4 L1490.0,832.8" fill="none" stroke="#f08c00" stroke-width="2.6" stroke-dasharray="1.2 8.2" stroke-linecap="round"/>
<path d="M1478.0,814.4 L1490.0,832.8" fill="none" stroke="#f08c00" stroke-width="2.6" stroke-dasharray="1.2 8.2" stroke-linecap="round"/>
<path d="M1468.6,827.9 L1490.0,832.8" fill="none" stroke="#f08c00" stroke-width="2.6" stroke-dasharray="1.2 8.2" stroke-linecap="round"/>
<path d="M1335.4,734.8 L1323.4,716.4" fill="none" stroke="#f08c00" stroke-width="2.6" stroke-dasharray="1.2 8.2" stroke-linecap="round"/>
<path d="M1344.8,721.3 L1323.4,716.4" fill="none" stroke="#f08c00" stroke-width="2.6" stroke-dasharray="1.2 8.2" stroke-linecap="round"/>
<path d="M1612.4,715.3 L1499.8,831.0" fill="none" stroke="#f08c00" stroke-width="2.6" stroke-dasharray="1.2 8.2" stroke-linecap="round"/>
<path d="M1519.9,822.1 L1499.8,831.0" fill="none" stroke="#f08c00" stroke-width="2.6" stroke-dasharray="1.2 8.2" stroke-linecap="round"/>
<path d="M1508.1,810.6 L1499.8,831.0" fill="none" stroke="#f08c00" stroke-width="2.6" stroke-dasharray="1.2 8.2" stroke-linecap="round"/>
<path d="M1592.3,724.2 L1612.4,715.3" fill="none" stroke="#f08c00" stroke-width="2.6" stroke-dasharray="1.2 8.2" stroke-linecap="round"/>
<path d="M1604.1,735.7 L1612.4,715.3" fill="none" stroke="#f08c00" stroke-width="2.6" stroke-dasharray="1.2 8.2" stroke-linecap="round"/>
<text transform="translate(279.50,298.10) scale(1,1.06)" fill="#1971c2" stroke="#1971c2" stroke-width="0.45" font-size="28" text-anchor="start" class="lab">Suspending Service</text>
<text transform="translate(322.50,329.90) scale(1,1.06)" fill="#1971c2" stroke="#1971c2" stroke-width="0.45" font-size="28" text-anchor="start" class="lab">Workers Flow</text>
<text transform="translate(942.30,207.70) scale(1,1.06)" fill="#1971c2" stroke="#1971c2" stroke-width="0.45" font-size="28" text-anchor="start" class="lab">Clicking "Suspend"</text>
<text transform="translate(571.40,565.80) scale(1,1.06)" fill="#e03131" stroke="#e03131" stroke-width="0.45" font-size="28" text-anchor="start" class="lab">Communicating through events</text>
<text transform="translate(724.60,776.70) scale(1,1.06)" fill="#e03131" stroke="#e03131" stroke-width="0.45" font-size="28" text-anchor="start" class="lab">Orchestrating tests</text>
<g fill="none" stroke="#1971c2" stroke-width="3.5" stroke-linecap="round" stroke-linejoin="round"><path d="M14.75 -17.50 C10.25 -17.50 4.25 -16.00 3.25 -13.50 C2.25 -11.00 12.25 -10.00 13.75 -6.00 C14.75 -2.00 10.25 0.00 6.25 -0.30 C4.25 -0.50 2.75 -1.00 1.75 -2.50 M19.75 -5.00 C23.75 -5.50 27.75 -6.00 30.25 -7.00 C30.25 -9.50 27.75 -10.50 24.75 -10.50 C21.25 -10.50 19.25 -7.00 19.25 -4.00 C19.25 0.00 22.25 2.50 25.75 2.50 C27.75 2.50 29.75 2.00 31.75 1.50 M36.62 -24.50 C36.12 -16.00 36.12 -8.00 36.62 -1.00 M41.62 -5.00 C45.62 -5.50 49.62 -6.00 52.12 -7.00 C52.12 -9.50 49.62 -10.50 46.62 -10.50 C43.12 -10.50 41.12 -7.00 41.12 -4.00 C41.12 0.00 44.12 2.50 47.62 2.50 C49.62 2.50 51.62 2.00 53.62 1.50 M58.12 -9.50 C58.12 -6.00 58.12 -3.00 58.12 -1.00 M58.12 -6.00 C59.62 -9.00 61.62 -10.50 63.62 -10.50 C66.12 -10.50 66.62 -7.00 66.62 -1.50 M71.62 -8.50 C71.62 -5.00 71.62 -3.00 71.92 -1.20 M71.12 -15.50 C71.62 -15.00 72.12 -14.50 72.62 -14.20 M77.12 -8.50 C77.12 -4.00 77.62 -1.50 80.62 -1.50 C83.62 -1.50 85.62 -4.00 86.12 -8.50 C86.12 -5.50 86.62 -3.00 87.12 -1.20 M91.62 -9.50 C91.62 -6.00 91.62 -3.00 91.62 -1.00 M91.62 -6.00 C92.62 -9.00 94.12 -10.00 95.62 -10.00 C97.62 -10.00 98.62 -8.00 98.62 -1.00 M98.62 -6.00 C99.62 -9.00 101.12 -10.00 102.62 -10.00 C105.12 -10.00 106.12 -7.00 106.62 -1.00" transform="translate(629.30,89.80) scale(1.0371,0.9384)"/><path d="M1.75 -10.50 C1.75 -6.00 1.75 -3.00 2.25 -1.20 C4.25 -3.00 6.25 -5.50 8.75 -6.50 C9.75 -4.00 10.75 -2.00 11.75 -1.20 C13.75 -4.00 15.25 -7.50 17.25 -10.50 M22.25 -5.00 C26.25 -5.50 30.25 -6.00 32.75 -7.00 C32.75 -9.50 30.25 -10.50 27.25 -10.50 C23.75 -10.50 21.75 -7.00 21.75 -4.00 C21.75 0.00 24.75 2.50 28.25 2.50 C30.25 2.50 32.25 2.00 34.25 1.50 M39.12 -20.50 C38.62 -14.00 38.62 -7.00 39.12 -1.50 M39.12 -5.00 C40.62 -8.50 43.62 -10.00 46.12 -9.50 C48.62 -9.00 49.62 -6.00 48.62 -3.50 C47.62 -1.00 43.12 -1.00 39.12 -2.00 M64.94 -7.50 C62.94 -10.00 57.94 -10.50 55.44 -9.00 C52.94 -7.50 52.94 -3.00 54.94 -2.00 C57.94 -0.50 61.94 -1.00 65.44 -2.50 M64.94 -21.50 C64.94 -14.00 65.44 -7.00 66.44 -1.00 M71.25 -1.00 C70.95 -4.00 70.65 -7.00 71.45 -8.50 C72.45 -10.50 74.45 -11.00 75.95 -11.00 C77.95 -11.00 79.95 -10.00 80.95 -8.50 M85.95 -8.50 C85.95 -5.00 85.95 -3.00 86.25 -1.20 M85.45 -15.50 C85.95 -15.00 86.45 -14.50 86.95 -14.20 M91.45 -11.50 C93.45 -7.50 94.95 -4.00 96.45 -1.20 C98.95 -5.00 100.95 -8.50 103.45 -11.50 M108.45 -5.00 C112.45 -5.50 116.45 -6.00 118.95 -7.00 C118.95 -9.50 116.45 -10.50 113.45 -10.50 C109.95 -10.50 107.95 -7.00 107.95 -4.00 C107.95 0.00 110.95 2.50 114.45 2.50 C116.45 2.50 118.45 2.00 120.45 1.50 M125.26 -1.00 C124.96 -4.00 124.66 -7.00 125.46 -8.50 C126.46 -10.50 128.46 -11.00 129.96 -11.00 C131.96 -11.00 133.96 -10.00 134.96 -8.50" transform="translate(758.00,89.80) scale(0.9487,0.9384)"/></g>
<g fill="none" stroke="#2f9e44" stroke-width="3.5" stroke-linecap="round" stroke-linejoin="round"><path d="M1.75 -13.00 C6.25 -14.50 13.75 -15.50 22.25 -16.00 M11.25 -15.50 C11.25 -10.00 11.75 -5.00 12.25 -1.00 M27.25 -5.00 C31.25 -5.50 35.25 -6.00 37.75 -7.00 C37.75 -9.50 35.25 -10.50 32.25 -10.50 C28.75 -10.50 26.75 -7.00 26.75 -4.00 C26.75 0.00 29.75 2.50 33.25 2.50 C35.25 2.50 37.25 2.00 39.25 1.50 M54.25 -11.50 C51.25 -12.00 46.25 -11.50 44.75 -9.50 C43.75 -7.50 52.25 -6.50 54.25 -4.00 C55.25 -1.00 52.25 0.50 49.25 0.50 C47.25 0.50 45.25 0.00 43.75 -1.50 M64.43 -19.50 C63.93 -13.00 63.43 -6.00 64.43 -2.00 C65.43 0.00 69.43 0.00 70.93 -3.50 M58.93 -11.50 C63.43 -12.00 67.43 -12.50 71.93 -13.00" transform="translate(64.50,581.64) scale(1.1807,1.1481)"/><path d="M2.06 -1.00 C1.76 -4.00 1.46 -7.00 2.26 -8.50 C3.26 -10.50 5.26 -11.00 6.76 -11.00 C8.76 -11.00 10.76 -10.00 11.76 -8.50 M16.26 -8.50 C16.26 -4.00 16.76 -1.50 19.76 -1.50 C22.76 -1.50 24.76 -4.00 25.26 -8.50 C25.26 -5.50 25.76 -3.00 26.26 -1.20 M30.76 -9.50 C30.76 -6.00 30.76 -3.00 30.76 -1.00 M30.76 -6.00 C32.26 -9.00 34.26 -10.50 36.26 -10.50 C38.76 -10.50 39.26 -7.00 39.26 -1.50 M43.76 -9.50 C43.76 -6.00 43.76 -3.00 43.76 -1.00 M43.76 -6.00 C45.26 -9.00 47.26 -10.50 49.26 -10.50 C51.76 -10.50 52.26 -7.00 52.26 -1.50 M57.26 -5.00 C61.26 -5.50 65.26 -6.00 67.76 -7.00 C67.76 -9.50 65.26 -10.50 62.26 -10.50 C58.76 -10.50 56.76 -7.00 56.76 -4.00 C56.76 0.00 59.76 2.50 63.26 2.50 C65.26 2.50 67.26 2.00 69.26 1.50 M74.08 -1.00 C73.78 -4.00 73.48 -7.00 74.28 -8.50 C75.28 -10.50 77.28 -11.00 78.78 -11.00 C80.78 -11.00 82.78 -10.00 83.78 -8.50" transform="translate(172.50,581.64) scale(1.2324,1.1481)"/></g>
<g fill="none" stroke="#f08c00" stroke-width="3.5" stroke-linecap="round" stroke-linejoin="round"><path d="M1.75 -21.50 C7.75 -22.00 13.25 -21.00 13.75 -17.00 C14.25 -13.50 9.75 -11.50 4.75 -11.50 M4.75 -11.50 C11.25 -11.50 16.75 -9.00 16.75 -5.00 C16.75 -0.50 9.25 0.50 1.75 0.50 M4.75 -21.00 C4.25 -14.00 4.25 -7.00 4.75 -0.50 M21.56 -1.00 C21.26 -4.00 20.96 -7.00 21.76 -8.50 C22.76 -10.50 24.76 -11.00 26.26 -11.00 C28.26 -11.00 30.26 -10.00 31.26 -8.50 M41.76 -10.50 C37.26 -10.50 35.76 -7.00 35.76 -5.00 C35.76 -1.50 38.76 -0.50 42.26 -0.50 C46.26 -0.50 48.76 -2.50 48.76 -6.00 C48.76 -9.00 45.76 -10.50 41.76 -10.50 M53.26 -10.50 C53.26 -6.00 53.26 -3.00 53.76 -1.20 C55.76 -3.00 57.76 -5.50 60.26 -6.50 C61.26 -4.00 62.26 -2.00 63.26 -1.20 C65.26 -4.00 66.76 -7.50 68.76 -10.50 M83.76 -11.50 C80.76 -12.00 75.76 -11.50 74.26 -9.50 C73.26 -7.50 81.76 -6.50 83.76 -4.00 C84.76 -1.00 81.76 0.50 78.76 0.50 C76.76 0.50 74.76 0.00 73.26 -1.50 M88.95 -5.00 C92.95 -5.50 96.95 -6.00 99.45 -7.00 C99.45 -9.50 96.95 -10.50 93.95 -10.50 C90.45 -10.50 88.45 -7.00 88.45 -4.00 C88.45 0.00 91.45 2.50 94.95 2.50 C96.95 2.50 98.95 2.00 100.95 1.50 M105.76 -1.00 C105.46 -4.00 105.16 -7.00 105.96 -8.50 C106.96 -10.50 108.96 -11.00 110.46 -11.00 C112.46 -11.00 114.46 -10.00 115.46 -8.50" transform="translate(1383.40,283.75) scale(1.1910,1.1315)"/></g>
<g fill="none" stroke="#f08c00" stroke-width="3.5" stroke-linecap="round" stroke-linejoin="round"><path d="M1.75 -21.50 C7.75 -22.00 13.25 -21.00 13.75 -17.00 C14.25 -13.50 9.75 -11.50 4.75 -11.50 M4.75 -11.50 C11.25 -11.50 16.75 -9.00 16.75 -5.00 C16.75 -0.50 9.25 0.50 1.75 0.50 M4.75 -21.00 C4.25 -14.00 4.25 -7.00 4.75 -0.50 M21.56 -1.00 C21.26 -4.00 20.96 -7.00 21.76 -8.50 C22.76 -10.50 24.76 -11.00 26.26 -11.00 C28.26 -11.00 30.26 -10.00 31.26 -8.50 M41.76 -10.50 C37.26 -10.50 35.76 -7.00 35.76 -5.00 C35.76 -1.50 38.76 -0.50 42.26 -0.50 C46.26 -0.50 48.76 -2.50 48.76 -6.00 C48.76 -9.00 45.76 -10.50 41.76 -10.50 M53.26 -10.50 C53.26 -6.00 53.26 -3.00 53.76 -1.20 C55.76 -3.00 57.76 -5.50 60.26 -6.50 C61.26 -4.00 62.26 -2.00 63.26 -1.20 C65.26 -4.00 66.76 -7.50 68.76 -10.50 M83.76 -11.50 C80.76 -12.00 75.76 -11.50 74.26 -9.50 C73.26 -7.50 81.76 -6.50 83.76 -4.00 C84.76 -1.00 81.76 0.50 78.76 0.50 C76.76 0.50 74.76 0.00 73.26 -1.50 M88.95 -5.00 C92.95 -5.50 96.95 -6.00 99.45 -7.00 C99.45 -9.50 96.95 -10.50 93.95 -10.50 C90.45 -10.50 88.45 -7.00 88.45 -4.00 C88.45 0.00 91.45 2.50 94.95 2.50 C96.95 2.50 98.95 2.00 100.95 1.50 M105.76 -1.00 C105.46 -4.00 105.16 -7.00 105.96 -8.50 C106.96 -10.50 108.96 -11.00 110.46 -11.00 C112.46 -11.00 114.46 -10.00 115.46 -8.50" transform="translate(1206.30,525.64) scale(1.1868,1.1448)"/><path d="M1.75 -1.50 C5.75 -7.50 10.25 -14.00 14.75 -20.00 C14.75 -13.00 14.75 -6.50 15.25 -1.00 M8.25 -5.50 C10.75 -5.80 13.25 -6.10 16.75 -6.50 M21.25 -19.50 C28.25 -19.50 34.75 -18.00 34.75 -14.50 C34.75 -11.00 29.25 -10.00 22.25 -10.00 M22.25 -19.50 C22.25 -13.00 22.25 -6.00 22.75 -1.00 M39.25 -17.00 C43.25 -17.30 46.75 -17.50 50.25 -17.80 M44.75 -17.50 C44.75 -12.00 44.75 -6.00 44.55 -1.50 M39.25 -1.50 C43.25 -1.80 46.75 -2.00 49.75 -2.20" transform="translate(1363.20,525.64) scale(1.2462,1.1448)"/></g>
<g fill="none" stroke="#e03131" stroke-width="3.5" stroke-linecap="round" stroke-linejoin="round"><path d="M1.75 -13.00 C6.25 -14.50 13.75 -15.50 22.25 -16.00 M11.25 -15.50 C11.25 -10.00 11.75 -5.00 12.25 -1.00 M27.25 -5.00 C31.25 -5.50 35.25 -6.00 37.75 -7.00 C37.75 -9.50 35.25 -10.50 32.25 -10.50 C28.75 -10.50 26.75 -7.00 26.75 -4.00 C26.75 0.00 29.75 2.50 33.25 2.50 C35.25 2.50 37.25 2.00 39.25 1.50 M54.25 -11.50 C51.25 -12.00 46.25 -11.50 44.75 -9.50 C43.75 -7.50 52.25 -6.50 54.25 -4.00 C55.25 -1.00 52.25 0.50 49.25 0.50 C47.25 0.50 45.25 0.00 43.75 -1.50 M64.43 -19.50 C63.93 -13.00 63.43 -6.00 64.43 -2.00 C65.43 0.00 69.43 0.00 70.93 -3.50 M58.93 -11.50 C63.43 -12.00 67.43 -12.50 71.93 -13.00" transform="translate(1487.70,523.74) scale(1.1848,1.1529)"/><path d="M2.25 -5.00 C6.25 -5.50 10.25 -6.00 12.75 -7.00 C12.75 -9.50 10.25 -10.50 7.25 -10.50 C3.75 -10.50 1.75 -7.00 1.75 -4.00 C1.75 0.00 4.75 2.50 8.25 2.50 C10.25 2.50 12.25 2.00 14.25 1.50 M18.75 -10.00 C22.25 -7.00 25.25 -4.00 28.25 -1.00 M27.75 -10.50 C24.25 -7.00 21.25 -4.00 18.75 0.00 M38.25 -19.50 C37.75 -13.00 37.25 -6.00 38.25 -2.00 C39.25 0.00 43.25 0.00 44.75 -3.50 M32.75 -11.50 C37.25 -12.00 41.25 -12.50 45.75 -13.00 M50.75 -5.00 C54.75 -5.50 58.75 -6.00 61.25 -7.00 C61.25 -9.50 58.75 -10.50 55.75 -10.50 C52.25 -10.50 50.25 -7.00 50.25 -4.00 C50.25 0.00 53.25 2.50 56.75 2.50 C58.75 2.50 60.75 2.00 62.75 1.50 M67.25 -9.50 C67.25 -6.00 67.25 -3.00 67.25 -1.00 M67.25 -6.00 C68.75 -9.00 70.75 -10.50 72.75 -10.50 C75.25 -10.50 75.75 -7.00 75.75 -1.50 M90.75 -11.50 C87.75 -12.00 82.75 -11.50 81.25 -9.50 C80.25 -7.50 88.75 -6.50 90.75 -4.00 C91.75 -1.00 88.75 0.50 85.75 0.50 C83.75 0.50 81.75 0.00 80.25 -1.50 M95.93 -8.50 C95.93 -5.00 95.93 -3.00 96.23 -1.20 M95.43 -15.50 C95.93 -15.00 96.43 -14.50 96.93 -14.20 M107.43 -10.50 C102.93 -10.50 101.43 -7.00 101.43 -5.00 C101.43 -1.50 104.43 -0.50 107.93 -0.50 C111.93 -0.50 114.43 -2.50 114.43 -6.00 C114.43 -9.00 111.43 -10.50 107.43 -10.50 M118.93 -9.50 C118.93 -6.00 118.93 -3.00 118.93 -1.00 M118.93 -6.00 C120.43 -9.00 122.43 -10.50 124.43 -10.50 C126.93 -10.50 127.43 -7.00 127.43 -1.50" transform="translate(1596.30,523.74) scale(1.2300,1.1529)"/></g>
<g fill="none" stroke="#e03131" stroke-width="3.5" stroke-linecap="round" stroke-linejoin="round"><path d="M1.75 -10.50 C1.75 -6.00 1.75 -3.00 2.25 -1.20 C4.25 -3.00 6.25 -5.50 8.75 -6.50 C9.75 -4.00 10.75 -2.00 11.75 -1.20 C13.75 -4.00 15.25 -7.50 17.25 -10.50 M22.25 -5.00 C26.25 -5.50 30.25 -6.00 32.75 -7.00 C32.75 -9.50 30.25 -10.50 27.25 -10.50 C23.75 -10.50 21.75 -7.00 21.75 -4.00 C21.75 0.00 24.75 2.50 28.25 2.50 C30.25 2.50 32.25 2.00 34.25 1.50 M39.12 -20.50 C38.62 -14.00 38.62 -7.00 39.12 -1.50 M39.12 -5.00 C40.62 -8.50 43.62 -10.00 46.12 -9.50 C48.62 -9.00 49.62 -6.00 48.62 -3.50 C47.62 -1.00 43.12 -1.00 39.12 -2.00 M54.00 -5.00 C58.00 -5.50 62.00 -6.00 64.50 -7.00 C64.50 -9.50 62.00 -10.50 59.00 -10.50 C55.50 -10.50 53.50 -7.00 53.50 -4.00 C53.50 0.00 56.50 2.50 60.00 2.50 C62.00 2.50 64.00 2.00 66.00 1.50 M70.50 -10.00 C74.00 -7.00 77.00 -4.00 80.00 -1.00 M79.50 -10.50 C76.00 -7.00 73.00 -4.00 70.50 0.00 M90.00 -19.50 C89.50 -13.00 89.00 -6.00 90.00 -2.00 C91.00 0.00 95.00 0.00 96.50 -3.50 M84.50 -11.50 C89.00 -12.00 93.00 -12.50 97.50 -13.00" transform="translate(1500.40,625.63) scale(1.1829,1.1553)"/><path d="M1.75 -16.00 C6.75 -16.50 11.75 -17.00 16.25 -17.50 M2.25 -16.00 C1.75 -11.00 1.75 -6.00 1.75 -1.00 C6.75 -1.00 11.75 -1.50 16.25 -2.00 M2.75 -8.50 C7.25 -9.00 11.75 -9.30 16.25 -9.50 M20.75 -9.50 C20.75 -6.00 20.75 -3.00 20.75 -1.00 M20.75 -6.00 C22.25 -9.00 24.25 -10.50 26.25 -10.50 C28.75 -10.50 29.25 -7.00 29.25 -1.50 M43.98 -8.00 C41.98 -10.50 36.98 -11.00 34.98 -9.00 C32.98 -7.00 33.48 -3.50 35.98 -3.00 C38.98 -2.50 41.98 -3.50 44.48 -5.50 M44.48 -9.50 C44.48 -5.00 43.98 3.00 42.98 9.00 C42.48 12.50 39.98 12.50 36.48 9.50 M49.48 -8.50 C49.48 -5.00 49.48 -3.00 49.78 -1.20 M48.98 -15.50 C49.48 -15.00 49.98 -14.50 50.48 -14.20 M54.98 -9.50 C54.98 -6.00 54.98 -3.00 54.98 -1.00 M54.98 -6.00 C56.48 -9.00 58.48 -10.50 60.48 -10.50 C62.98 -10.50 63.48 -7.00 63.48 -1.50 M68.48 -5.00 C72.48 -5.50 76.48 -6.00 78.98 -7.00 C78.98 -9.50 76.48 -10.50 73.48 -10.50 C69.98 -10.50 67.98 -7.00 67.98 -4.00 C67.98 0.00 70.98 2.50 74.48 2.50 C76.48 2.50 78.48 2.00 80.48 1.50" transform="translate(1638.50,625.63) scale(1.2562,1.1553)"/></g>
<g fill="none" stroke="#f08c00" stroke-width="3.5" stroke-linecap="round" stroke-linejoin="round"><path d="M1.75 -16.00 C6.75 -16.50 11.75 -17.00 16.25 -17.50 M2.25 -16.00 C1.75 -11.00 1.75 -6.00 1.75 -1.00 C6.75 -1.00 11.75 -1.50 16.25 -2.00 M2.75 -8.50 C7.25 -9.00 11.75 -9.30 16.25 -9.50 M20.75 -10.00 C24.25 -7.00 27.25 -4.00 30.25 -1.00 M29.75 -10.50 C26.25 -7.00 23.25 -4.00 20.75 0.00 M40.25 -19.50 C39.75 -13.00 39.25 -6.00 40.25 -2.00 C41.25 0.00 45.25 0.00 46.75 -3.50 M34.75 -11.50 C39.25 -12.00 43.25 -12.50 47.75 -13.00 M52.75 -5.00 C56.75 -5.50 60.75 -6.00 63.25 -7.00 C63.25 -9.50 60.75 -10.50 57.75 -10.50 C54.25 -10.50 52.25 -7.00 52.25 -4.00 C52.25 0.00 55.25 2.50 58.75 2.50 C60.75 2.50 62.75 2.00 64.75 1.50 M69.25 -9.50 C69.25 -6.00 69.25 -3.00 69.25 -1.00 M69.25 -6.00 C70.75 -9.00 72.75 -10.50 74.75 -10.50 C77.25 -10.50 77.75 -7.00 77.75 -1.50 M92.75 -11.50 C89.75 -12.00 84.75 -11.50 83.25 -9.50 C82.25 -7.50 90.75 -6.50 92.75 -4.00 C93.75 -1.00 90.75 0.50 87.75 0.50 C85.75 0.50 83.75 0.00 82.25 -1.50 M97.93 -8.50 C97.93 -5.00 97.93 -3.00 98.23 -1.20 M97.43 -15.50 C97.93 -15.00 98.43 -14.50 98.93 -14.20 M109.43 -10.50 C104.93 -10.50 103.43 -7.00 103.43 -5.00 C103.43 -1.50 106.43 -0.50 109.93 -0.50 C113.93 -0.50 116.43 -2.50 116.43 -6.00 C116.43 -9.00 113.43 -10.50 109.43 -10.50 M120.93 -9.50 C120.93 -6.00 120.93 -3.00 120.93 -1.00 M120.93 -6.00 C122.43 -9.00 124.43 -10.50 126.43 -10.50 C128.93 -10.50 129.43 -7.00 129.43 -1.50" transform="translate(1367.00,927.62) scale(1.2524,1.1774)"/><path d="M1.75 -9.50 C1.75 -3.00 1.75 4.00 2.25 10.50 M1.75 -8.00 C3.75 -10.50 7.75 -11.00 10.25 -9.00 C12.25 -7.00 11.25 -3.00 8.75 -2.00 C6.75 -1.00 3.75 -1.50 1.75 -2.50 M25.31 -9.00 C21.81 -11.50 16.81 -10.00 15.81 -6.00 C15.31 -2.00 19.81 -1.50 22.81 -3.00 C24.81 -4.50 26.31 -7.00 26.81 -10.00 C26.81 -5.00 27.81 -2.00 31.31 -1.50 M46.04 -8.00 C44.04 -10.50 39.04 -11.00 37.04 -9.00 C35.04 -7.00 35.54 -3.50 38.04 -3.00 C41.04 -2.50 44.04 -3.50 46.54 -5.50 M46.54 -9.50 C46.54 -5.00 46.04 3.00 45.04 9.00 C44.54 12.50 42.04 12.50 38.54 9.50 M51.54 -5.00 C55.54 -5.50 59.54 -6.00 62.04 -7.00 C62.04 -9.50 59.54 -10.50 56.54 -10.50 C53.04 -10.50 51.04 -7.00 51.04 -4.00 C51.04 0.00 54.04 2.50 57.54 2.50 C59.54 2.50 61.54 2.00 63.54 1.50" transform="translate(1551.40,927.62) scale(1.2130,1.1774)"/></g>
</svg>
</body></html>
